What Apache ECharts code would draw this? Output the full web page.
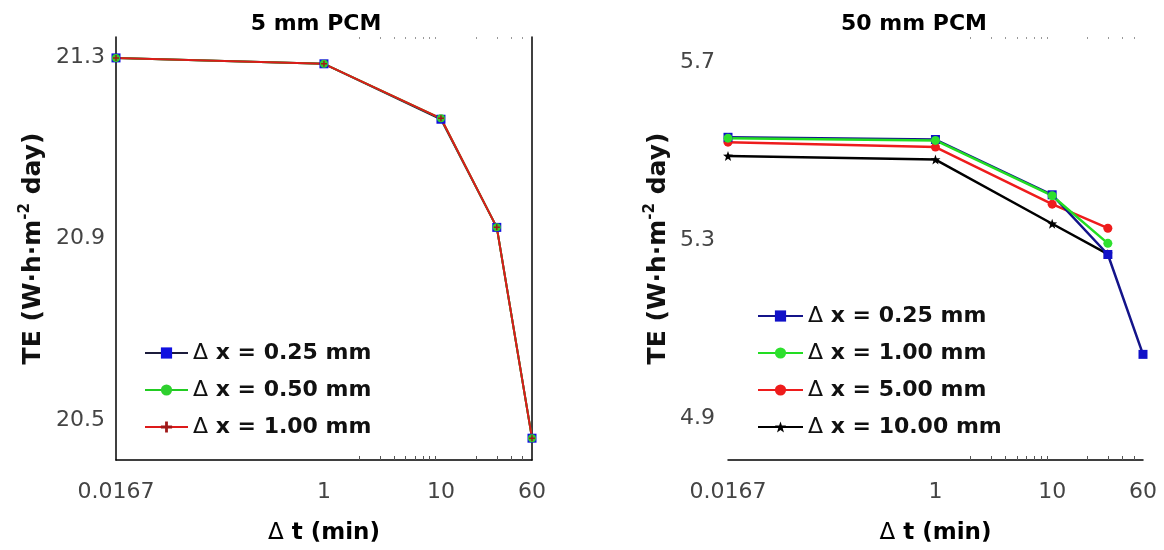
<!DOCTYPE html>
<html><head><meta charset="utf-8">
<script src="https://cdn.jsdelivr.net/npm/echarts@6/dist/echarts.min.js"></script>
<style>html,body{margin:0;padding:0;background:#fff}#c{width:1164px;height:550px}</style>
</head><body><div id="c"></div>
<script>
// ---------------- data ----------------
const dtLeft = [0.0167, 1, 10, 30, 60];
const teLeft025 = [21.298, 21.285, 21.163, 20.925, 20.461];
const teLeft050 = [21.298, 21.285, 21.165, 20.925, 20.461];
const teLeft100 = [21.298, 21.285, 21.165, 20.925, 20.461];

const dtRight025 = [0.0167, 1, 10, 30, 60];
const dtRight = [0.0167, 1, 10, 30];
const teRight025 = [5.531, 5.526, 5.402, 5.268, 5.044];
const teRight100 = [5.529, 5.524, 5.400, 5.293];
const teRight500 = [5.520, 5.509, 5.381, 5.327];
const teRight1000 = [5.489, 5.481, 5.337, 5.269];

const xMajor = [0.0167, 1, 10, 60];
const xMajorLabels = ['0.0167', '1', '10', '60'];
const xMinor = [2, 3, 4, 5, 6, 7, 8, 9, 20, 30, 40, 50];
const yTicksLeft = [20.5, 20.9, 21.3];
const yTicksRight = [4.9, 5.3, 5.7];

const legendNames = {
  a025: 'x = 0.25 mm', a050: 'x = 0.50 mm', a100: 'x = 1.00 mm',
  b025: 'x = 0.25 mm', b100: 'x = 1.00 mm', b500: 'x = 5.00 mm', b1000: 'x = 10.00 mm'
};

// ---------------- helpers ----------------
const FONT = 'DejaVu Sans';
const lg = Math.log10;
const xMin = 0.0167, xMax = 60;
const pairs = (xs, ys) => xs.map((x, i) => [x, ys[i]]);
const majorLog = xMajor.map(lg);
const minorLog = xMinor.map(lg);
const fmtX = v => {
  let best = 0, d = Infinity;
  majorLog.forEach((m, i) => { if (Math.abs(m - v) < d) { d = Math.abs(m - v); best = i; } });
  return xMajorLabels[best];
};
const starPath = 'path://M5,0L6.2,3.4L10,3.5L7,5.8L8.1,9.5L5,7.3L1.9,9.5L3,5.8L0,3.5L3.8,3.4Z';
const plusPath = 'path://M3,0h2v8h-2zM0,3h8v2h-8z';

function xAxesFor(g) {
  return [
    { gridIndex: g, type: 'log', logBase: 10, min: xMin, max: xMax, position: 'bottom',
      axisLine: { show: true, onZero: false, lineStyle: { color: '#000', width: 1.5 } },
      axisTick: { show: false }, axisLabel: { show: false }, splitLine: { show: false },
      name: '{d|Δ} t (min)', nameLocation: 'middle', nameGap: 62,
      nameTextStyle: { fontFamily: FONT, fontSize: 23, fontWeight: 'bold', color: '#000',
        rich: { d: { fontFamily: FONT, fontSize: 23, fontWeight: 'normal', color: '#000' } } } },
    { gridIndex: g, type: 'value', min: lg(xMin), max: lg(xMax), position: 'bottom',
      axisLine: { show: false, onZero: false }, splitLine: { show: false },
      axisTick: { show: true, inside: true, length: 4, customValues: minorLog, lineStyle: { color: '#555', width: 1 } },
      axisLabel: { show: true, customValues: majorLog, formatter: fmtX, margin: 21,
        fontFamily: FONT, fontSize: 22, color: '#444' } },
    { gridIndex: g, type: 'value', position: 'top', min: lg(xMin), max: lg(xMax),
      axisLine: { show: false, onZero: false }, splitLine: { show: false }, axisLabel: { show: false },
      axisTick: { show: true, inside: true, length: 2, customValues: minorLog, lineStyle: { color: '#999', width: 1 } } }
  ];
}

const yName = '{b|TE (W·h·m}{s|-2}{b| day)}';
const yNameStyle = { rich: {
  b: { fontFamily: FONT, fontSize: 25, fontWeight: 'bold', color: '#111', lineHeight: 30 },
  s: { fontFamily: FONT, fontSize: 15, fontWeight: 'bold', color: '#111', verticalAlign: 'top', lineHeight: 30 } } };

const legendText = { fontFamily: FONT, fontSize: 22, fontWeight: 'bold', color: '#111', lineHeight: 26,
  rich: { d: { fontFamily: FONT, fontSize: 22, fontWeight: 'normal', color: '#111', lineHeight: 26 } } };

const option = {
  animation: false,
  backgroundColor: '#fff',
  grid: [
    { left: 116, top: 37, width: 416, height: 427 },
    { left: 728, top: 37, width: 415, height: 428 }
  ],
  xAxis: [...xAxesFor(0), ...xAxesFor(1)],
  yAxis: [
    { gridIndex: 0, type: 'value', min: 20.413, max: 21.344, position: 'left',
      axisLine: { show: true, onZero: false, lineStyle: { color: '#000', width: 1.5 } },
      axisTick: { show: false }, splitLine: { show: false },
      axisLabel: { customValues: yTicksLeft, formatter: v => v.toFixed(1), margin: 11,
        fontFamily: FONT, fontSize: 22, color: '#444' },
      name: yName, nameLocation: 'middle', nameGap: 68, nameTextStyle: yNameStyle },
    { gridIndex: 0, type: 'value', position: 'right', min: 20.413, max: 21.344,
      axisLine: { show: true, onZero: false, lineStyle: { color: '#000', width: 1.5 } },
      axisTick: { show: false }, axisLabel: { show: false }, splitLine: { show: false } },
    { gridIndex: 1, type: 'value', min: 4.807, max: 5.756, position: 'left',
      axisLine: { show: false, onZero: false }, axisTick: { show: false }, splitLine: { show: false },
      axisLabel: { customValues: yTicksRight, formatter: v => v.toFixed(1), margin: 13,
        fontFamily: FONT, fontSize: 22, color: '#444' },
      name: yName, nameLocation: 'middle', nameGap: 55, nameTextStyle: yNameStyle }
  ],
  legend: [
    { orient: 'vertical', left: 139, top: 335, itemWidth: 43, itemHeight: 14, itemGap: 11,
      data: ['a025', 'a050', 'a100'], formatter: n => '{d|Δ} ' + legendNames[n], textStyle: legendText },
    { orient: 'vertical', left: 752, top: 298, itemWidth: 45, itemHeight: 14, itemGap: 11,
      data: ['b025', 'b100', 'b500', 'b1000'], formatter: n => '{d|Δ} ' + legendNames[n], textStyle: legendText }
  ],
  graphic: [
    { type: 'text', x: 316, y: 24, style: { text: '5 mm PCM', font: 'bold 22px "DejaVu Sans"', fill: '#000', textAlign: 'center', textVerticalAlign: 'middle' } },
    { type: 'text', x: 914, y: 24, style: { text: '50 mm PCM', font: 'bold 22px "DejaVu Sans"', fill: '#000', textAlign: 'center', textVerticalAlign: 'middle' } }
  ],
  series: [
    { name: 'a025', type: 'line', xAxisIndex: 0, yAxisIndex: 0, data: pairs(dtLeft, teLeft025),
      symbol: 'rect', symbolSize: 9, lineStyle: { color: '#1c1c3c', width: 2 }, itemStyle: { color: '#1010e0' } },
    { name: 'a050', type: 'line', xAxisIndex: 0, yAxisIndex: 0, data: pairs(dtLeft, teLeft050),
      symbol: 'circle', symbolSize: 8, lineStyle: { color: '#22cc22', width: 2 }, itemStyle: { color: '#2ed02e' } },
    { name: 'a100', type: 'line', xAxisIndex: 0, yAxisIndex: 0, data: pairs(dtLeft, teLeft100),
      symbol: plusPath, symbolSize: 6, lineStyle: { color: '#dd1a1a', width: 2 }, itemStyle: { color: '#a01818' } },

    { name: 'b1000', type: 'line', xAxisIndex: 3, yAxisIndex: 2, data: pairs(dtRight, teRight1000),
      symbol: starPath, symbolSize: 10, lineStyle: { color: '#000', width: 2.5 }, itemStyle: { color: '#000' } },
    { name: 'b500', type: 'line', xAxisIndex: 3, yAxisIndex: 2, data: pairs(dtRight, teRight500),
      symbol: 'circle', symbolSize: 9, lineStyle: { color: '#ee1c1c', width: 2.5 }, itemStyle: { color: '#ee1c1c' } },
    { name: 'b025', type: 'line', xAxisIndex: 3, yAxisIndex: 2, data: pairs(dtRight025, teRight025),
      symbol: 'rect', symbolSize: 9, lineStyle: { color: '#14148a', width: 2.5 }, itemStyle: { color: '#1010c8' } },
    { name: 'b100', type: 'line', xAxisIndex: 3, yAxisIndex: 2, data: pairs(dtRight, teRight100),
      symbol: 'circle', symbolSize: 9, lineStyle: { color: '#22dd22', width: 2.5 }, itemStyle: { color: '#2ee02e' } }
  ]
};
const chart = echarts.init(document.getElementById('c'), null, { renderer: 'canvas' });
chart.setOption(option);
</script>
</body></html>
